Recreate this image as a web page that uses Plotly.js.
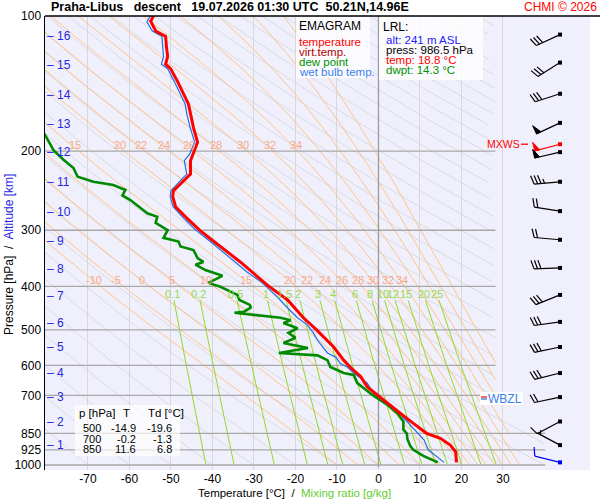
<!DOCTYPE html>
<html>
<head>
<meta charset="utf-8">
<script src="https://cdn.plot.ly/plotly-3.0.1.min.js"></script>
<style>
  html, body { margin: 0; padding: 0; background: #fff; }
  #chart { width: 600px; height: 500px; }
</style>
</head>
<body>
<div id="chart"></div>
<script>
// ---- sounding ----
var presT = [100, 102.6, 108, 111, 117, 123, 128, 131, 140, 149,
             157, 165, 177, 191, 203, 210, 225, 233, 245, 252,
             266, 283, 301, 317, 336, 353, 398, 429, 470, 500,
             546, 584, 607, 635, 670, 700, 727, 768, 808, 850,
             872, 903, 935, 975, 986.5];
var temp  = [-54.2, -54.9, -53.7, -51.3, -51.1, -50.8, -51.3, -50.1, -48.4, -47.0,
             -45.8, -45.3, -44.6, -43.6, -44.6, -45.3, -45.3, -47.0, -49.4, -49.6,
             -48.9, -46.0, -42.9, -39.8, -36.4, -33.3, -26.7, -21.9, -18.1, -14.9,
             -10.8, -8.4, -6.7, -4.3, -2.7, -0.2, 2.2, 5.3, 8.4, 11.6,
             14.9, 17.3, 18.6, 18.8, 18.8];

var presTd = [183, 199, 209, 218, 228, 234, 238, 244, 251, 257,
              275, 280, 289, 300, 312, 318, 326, 332, 346, 353,
              358, 368, 379, 393, 401, 418, 429, 440, 446, 456,
              458, 464, 470, 476, 483, 496, 508, 521, 535, 549,
              563, 570, 584, 605, 624, 630, 657, 674, 700, 735,
              768, 800, 834, 850, 877, 909, 925, 954, 975, 986.5];
var dewp   = [-80.5, -78.3, -75.9, -73.5, -72.5, -68.7, -63.9, -61.0, -61.7, -59.8,
              -55.7, -53.3, -53.7, -50.8, -51.8, -48.2, -47.7, -44.6, -43.6, -42.2,
              -44.1, -41.7, -37.6, -41.0, -38.1, -34.0, -33.5, -31.0, -30.8, -32.5,
              -34.7, -28.4, -23.6, -21.2, -22.9, -19.5, -21.7, -20.0, -22.9, -17.0,
              -24.0, -14.7, -12.3, -11.6, -8.4, -6.0, -5.1, -3.6, -1.3, 2.2,
              4.6, 6.0, 6.0, 6.8, 7.0, 7.7, 8.4, 10.8, 13.0, 14.3];

var presTw = [100, 103, 108, 111, 117, 123, 128, 131, 140, 149,
              157, 165, 177, 191, 203, 210, 225, 233, 245, 252,
              266, 283, 301, 319, 344, 372, 393, 423, 447, 470,
              488, 508, 527, 546, 563, 575, 594, 605, 624, 657,
              705, 742, 781, 835, 880, 925, 986.5];
var wetb   = [-55.0, -55.8, -54.5, -52.2, -52.0, -51.8, -52.3, -50.8, -49.2, -47.8,
              -46.6, -46.2, -45.4, -44.3, -45.5, -46.8, -46.2, -47.8, -50.0, -50.2,
              -49.5, -46.8, -43.8, -40.3, -35.9, -31.6, -28.0, -24.3, -21.9, -19.5,
              -17.1, -15.7, -14.7, -13.3, -12.3, -10.3, -9.2, -7.5, -6.0, -2.7,
              -0.7, 3.6, 5.8, 8.9, 11.0, 12.0, 15.8];

// altitude marks [km] and the pressure they sit at
var altKm = [1, 2, 3, 4, 5, 6, 7, 8, 9, 10, 11, 12, 13, 14, 15, 16];
var altP  = [903, 802, 706, 624, 546, 483, 420, 366, 317, 273, 234, 201, 174, 150, 128.6, 110.8];

// wind barbs
var windP   = [110, 127, 149, 173, 193, 201, 234, 272, 315, 364, 418, 480, 546, 624, 706, 800, 903, 986.5];
var windDir = [245, 238, 252, 245, 255, 257, 265, 279, 275, 268, 248, 262, 258, 256, 258, 242, 298, 284];
var windSpd = [30, 30, 30, 50, 50, 50, 35, 20, 20, 30, 30, 30, 30, 30, 20, 10, 5, 10];
var mxwsIdx = 4;

// table and lowest level
var tabP  = [500, 700, 850];
var tabT  = [-14.9, -0.2, 11.6];
var tabTd = [-19.6, -1.3, 6.8];
var lrl = {alt: 241, press: 986.5, temp: 18.8, dwpt: 14.3};

// diagram furniture
var isobars   = [200, 300, 400, 500, 600, 700, 850, 925, 1000];
var isotherms = [-70, -60, -50, -40, -30, -20, -10, 0, 10, 20, 30];
var pTicks    = [100, 200, 300, 400, 500, 600, 700, 850, 925, 1000];
var dryT0 = [-80, -70, -60, -50, -40, -30, -20, -10, 0, 10, 20, 30, 40, 50, 60, 70, 80, 90,
             100, 110, 120, 130, 140, 150, 160, 170, 180, 190, 200, 210, 220, 230, 240,
             250, 260, 270, 280, 290, 300, 310];
var wetTw = [-10, -5, 0, 5, 10, 15, 20, 22, 24, 26, 28, 30, 32, 34, 36, 38, 40, 42];
var wetLabelsHi = [15, 20, 22, 24, 26, 28, 30, 32, 34];
var wetLabelsLo = [-10, -5, 0, 5, 10, 15, 20, 22, 24, 26, 28, 30, 32, 34];
var mixW = [0.1, 0.2, 0.5, 1, 1.5, 2, 3, 4, 6, 8, 10, 12, 15, 20, 25];

var FONT = 'Liberation Sans, Arial, sans-serif';
var pxPerDecade = 449;
function PX(x) { return (x - 45) / 545; }
function PY(y) { return (470 - y) / 454; }
function pyOf(p) { return 16 + pxPerDecade * (Math.log10(p) - 2); }

function grayMax(p) {
  if (p <= 700) return 28.2;
  if (p >= 850) return 40.2;
  return 28.2 + (p - 700) / 150 * 12;
}
function orangeMax(p) {
  if (p <= 700) return 28.2;
  return 28.2 + (p - 700) / 300 * 6.5;
}

function es(t) { return 6.112 * Math.exp(17.67 * t / (t + 243.5)); }
function lapse(t, p) {
  var tk = t + 273.15, e = es(t), r = 0.622 * e / (p - e);
  var Lv = 2.501e6, Rd = 287.04, cp = 1005.7;
  return (Rd * tk + Lv * r) / (p * (cp + Lv * Lv * r * 0.622 / (Rd * tk * tk)));
}

var traces = [];
function addLine(xs, ys, color, width) {
  traces.push({x: xs, y: ys, mode: 'lines', type: 'scatter', hoverinfo: 'skip',
               line: {color: color, width: width}, connectgaps: false});
}

// dry adiabats
dryT0.forEach(function (t0) {
  var xs = [], ys = [];
  for (var p = 1000; p >= 99; p -= 5) {
    var t = (t0 + 273.15) * Math.pow(p / 1000, 0.2857) - 273.15;
    xs.push(t <= grayMax(p) ? t : null);
    ys.push(p);
  }
  addLine(xs, ys, '#d4d4da', 0.8);
});

// pseudo-adiabats
var wetLines = {};
wetTw.forEach(function (tw) {
  var xs = [], ys = [], raw = [];
  var p = 1000, t = tw, dp = -2;
  while (p >= 99) {
    raw.push([p, t]);
    xs.push(t <= orangeMax(p) ? t : null);
    ys.push(p);
    var k1 = lapse(t, p);
    var k2 = lapse(t + k1 * dp / 2, p + dp / 2);
    t += k2 * dp; p += dp;
  }
  wetLines[tw] = raw;
  addLine(xs, ys, '#ffbf7c', 0.9);
});
function wetAt(tw, p) {
  var raw = wetLines[tw];
  for (var i = 1; i < raw.length; i++) {
    if (raw[i][0] <= p) {
      var f = (raw[i - 1][0] - p) / (raw[i - 1][0] - raw[i][0]);
      return raw[i - 1][1] + f * (raw[i][1] - raw[i - 1][1]);
    }
  }
  return null;
}

// mixing ratio lines
function mixT(w, p) {
  var a = Math.log(w * p / (622 + w) / 6.112);
  return 243.5 * a / (17.67 - a);
}
mixW.forEach(function (w) {
  var xs = [], ys = [];
  for (var p = 1000; p >= 430; p -= 10) { xs.push(mixT(w, p)); ys.push(p); }
  addLine(xs, ys, '#96d825', 1);
});

// isobars
isobars.forEach(function (p) {
  addLine([-81, p >= 850 ? 40.2 : 28.2], [p, p], '#a8a8a8', 1.3);
});
// 0 degC isotherm
addLine([0, 0], [1012, 99], '#9a9a9a', 1.3);

// profiles
addLine(wetb, presTw, '#1f6fe8', 1.2);
addLine(dewp, presTd, '#008a00', 2.6);
addLine(temp, presT, '#ff0000', 3);

// wind barbs on a pixel x-axis
function pAt(p, dy) { return Math.pow(10, Math.log10(p) + dy / pxPerDecade); }
windP.forEach(function (p, i) {
  var col = i === mxwsIdx ? '#ff0000' : (i === windP.length - 1 ? '#0000ff' : '#000000');
  var d = windDir[i] * Math.PI / 180;
  var sx = Math.sin(d), sy = -Math.cos(d);
  var nx = Math.cos(d), ny = Math.sin(d);
  var a = 18 * Math.PI / 180;
  var bx = nx * Math.cos(a) + sx * Math.sin(a), by = ny * Math.cos(a) + sy * Math.sin(a);
  var x0 = 560, L = 26;
  var tx = x0 + L * sx, ty = L * sy;
  var xs = [x0, tx, null], ys = [p, pAt(p, ty), null];
  var s = Math.round(windSpd[i] / 5) * 5;
  var n50 = Math.floor(s / 50), n10 = Math.floor((s % 50) / 10), n5 = (s % 10) >= 5 ? 1 : 0;
  var off = 0;
  for (var k = 0; k < n50; k++) {
    var b1x = tx - sx * off, b1y = ty - sy * off;
    var b2x = tx - sx * (off + 5), b2y = ty - sy * (off + 5);
    var axp = b1x + nx * 9, ayp = b1y + ny * 9;
    traces.push({x: [b1x, axp, b2x, b1x], y: [pAt(p, b1y), pAt(p, ayp), pAt(p, b2y), pAt(p, b1y)],
                 xaxis: 'x2', mode: 'lines', fill: 'toself', fillcolor: col, hoverinfo: 'skip',
                 line: {color: col, width: 1}});
    off += 6;
  }
  for (k = 0; k < n10; k++) {
    var qx = tx - sx * off, qy = ty - sy * off;
    xs.push(qx, qx + bx * 9, null); ys.push(pAt(p, qy), pAt(p, qy + by * 9), null);
    off += 3.5;
  }
  if (n5) {
    if (off === 0) off = 3.5;
    qx = tx - sx * off; qy = ty - sy * off;
    xs.push(qx, qx + bx * 4.5, null); ys.push(pAt(p, qy), pAt(p, qy + by * 4.5), null);
  }
  traces.push({x: xs, y: ys, xaxis: 'x2', mode: 'lines', hoverinfo: 'skip',
               line: {color: col, width: 1.2}});
  traces.push({x: [x0], y: [p], xaxis: 'x2', mode: 'markers', hoverinfo: 'skip',
               marker: {symbol: 'square', size: 4, color: col}});
});

// ---- annotations ----
var ann = [];
function txt(x, y, s, opt) {
  opt = opt || {};
  ann.push({xref: 'paper', yref: 'paper', x: PX(x), y: PY(y), text: s, showarrow: false,
            xanchor: opt.xa || 'left', yanchor: 'middle', textangle: opt.angle || 0, borderpad: 0,
            font: {family: FONT, size: opt.size || 11, color: opt.color || '#000'}});
}
var sp = '\u00a0';

txt(50, 7, '<b>Praha-Libus' + sp + sp + ' descent' + sp + sp + ' 19.07.2026 01:30 UTC' + sp + ' 50.21N,14.96E</b>', {size: 12.5});
txt(598, 7, 'CHMI \u00a9 2026', {xa: 'right', size: 12, color: '#ff0000'});

// altitude marks
altKm.forEach(function (km, i) {
  ann.push({xref: 'paper', yref: 'y', x: PX(46), y: Math.log10(altP[i]), text: '\u2013' + sp + km,
            showarrow: false, xanchor: 'left', yanchor: 'middle', borderpad: 0,
            font: {family: FONT, size: 12, color: '#2626e6'}});
});

// pseudo-adiabat labels
function wetLabel(tw, p, dx) {
  var t = wetAt(tw, p);
  if (t === null || t < -79) return;
  ann.push({xref: 'x', yref: 'y', x: t + dx, y: Math.log10(p), text: String(tw), showarrow: false,
            xanchor: 'center', yanchor: 'middle', borderpad: 0,
            font: {family: FONT, size: 11, color: '#f7a888'}});
}
wetLabelsHi.forEach(function (tw) { wetLabel(tw, 194, 0.9); });
wetLabelsLo.forEach(function (tw) { wetLabel(tw, 387, 0.3); });

// mixing ratio labels
mixW.forEach(function (w) {
  ann.push({xref: 'x', yref: 'y', x: mixT(w, 417), y: Math.log10(417), text: String(w), showarrow: false,
            xanchor: 'center', yanchor: 'middle', borderpad: 0,
            font: {family: FONT, size: 11, color: '#99d94a'}});
});

// legend box
txt(298, 26, 'EMAGRAM', {size: 12});
txt(298, 42, 'temperature', {color: '#ff0000', size: 11.5});
txt(298, 52, 'virt.temp.', {color: '#b00000', size: 11.5});
txt(298, 62, 'dew point', {color: '#009000', size: 11.5});
txt(298, 72, 'wet bulb temp.', {color: '#3a7ff0', size: 11.5});

// LRL box
txt(382, 27, 'LRL:', {size: 12});
txt(385, 40, 'alt: ' + lrl.alt + ' m ASL', {color: '#2222ff', size: 11.5});
txt(385, 50, 'press: ' + lrl.press.toFixed(1) + ' hPa', {size: 11.5});
txt(385, 60, 'temp: ' + lrl.temp.toFixed(1) + ' \u00b0C', {color: '#ff0000', size: 11.5});
txt(385, 70, 'dwpt: ' + lrl.dwpt.toFixed(1) + ' \u00b0C', {color: '#009000', size: 11.5});

// table
txt(78, 413, 'p [hPa]', {size: 11.5});
txt(126, 413, 'T', {size: 11.5, xa: 'center'});
txt(147, 413, 'Td [\u00b0C]', {size: 11.5});
tabP.forEach(function (p, i) {
  var y = 428 + i * 10.5;
  txt(102, y, String(p), {xa: 'right', size: 11});
  txt(137, y, tabT[i].toFixed(1), {xa: 'right', size: 11});
  txt(173, y, tabTd[i].toFixed(1), {xa: 'right', size: 11});
});

// axis titles
txt(197, 493, 'Temperature [\u00b0C]' + sp + ' /' + sp + ' <span style="color:#66cc33">Mixing ratio [g/kg]</span>', {size: 11.5});
ann.push({xref: 'paper', yref: 'paper', x: -36 / 545, y: PY(255), showarrow: false, textangle: -90,
          xanchor: 'center', yanchor: 'middle',
          text: 'Pressure [hPa]' + sp + ' /' + sp + ' <span style="color:#2626e6">Altitude [km]</span>',
          font: {family: FONT, size: 12, color: '#000'}});

// MXWS and WBZL markers
var mxP = windP[mxwsIdx];
ann.push({xref: 'paper', yref: 'y', x: PX(486), y: Math.log10(mxP), text: 'MXWS', showarrow: false,
          xanchor: 'left', yanchor: 'middle', borderpad: 0,
          font: {family: FONT, size: 10.5, color: '#ff0000'}});
var wbzP = 700;
for (var i = 1; i < wetb.length; i++) {
  if (wetb[i - 1] < 0 && wetb[i] >= 0 && presTw[i] > 500) {
    wbzP = presTw[i - 1] + (0 - wetb[i - 1]) / (wetb[i] - wetb[i - 1]) * (presTw[i] - presTw[i - 1]);
  }
}
ann.push({xref: 'paper', yref: 'y', x: PX(487), y: Math.log10(wbzP), text: 'WBZL', showarrow: false,
          xanchor: 'left', yanchor: 'middle', borderpad: 0,
          font: {family: FONT, size: 12, color: '#3a7ff0'}});

var wbY = pyOf(wbzP), mxY = pyOf(mxP);
var shapes = [
  {type: 'rect', xref: 'paper', yref: 'paper', x0: PX(296), x1: PX(370), y0: PY(78), y1: PY(17),
   fillcolor: 'rgba(255,255,255,0.78)', line: {width: 0}, layer: 'above'},
  {type: 'rect', xref: 'paper', yref: 'paper', x0: PX(379), x1: PX(483), y0: PY(80), y1: PY(17),
   fillcolor: 'rgba(255,255,255,0.78)', line: {width: 0}, layer: 'above'},
  {type: 'rect', xref: 'paper', yref: 'paper', x0: PX(75), x1: PX(180), y0: PY(456), y1: PY(405),
   fillcolor: 'rgba(255,255,255,0.7)', line: {width: 0}, layer: 'above'},
  {type: 'rect', xref: 'paper', yref: 'paper', x0: PX(480), x1: PX(523), y0: PY(wbY + 6.5), y1: PY(wbY - 6.5),
   fillcolor: 'rgba(255,255,255,0.9)', line: {width: 0}, layer: 'above'},
  // top border
  {type: 'line', xref: 'paper', yref: 'paper', x0: 0, x1: PX(600), y0: 1, y1: 1,
   line: {color: '#000', width: 1.3}},
  // MXWS dash, WBZL double dash
  {type: 'line', xref: 'paper', yref: 'paper', x0: PX(521), x1: PX(528), y0: PY(mxY), y1: PY(mxY),
   line: {color: '#ff0000', width: 1.3}, layer: 'above'},
  {type: 'line', xref: 'paper', yref: 'paper', x0: PX(481), x1: PX(487), y0: PY(wbY - 1.5), y1: PY(wbY - 1.5),
   line: {color: '#ff0000', width: 1.2}, layer: 'above'},
  {type: 'line', xref: 'paper', yref: 'paper', x0: PX(481), x1: PX(487), y0: PY(wbY + 0.5), y1: PY(wbY + 0.5),
   line: {color: '#1f6fe8', width: 1.2}, layer: 'above'}
];

var layout = {
  width: 600, height: 500,
  margin: {l: 45, r: 10, t: 16, b: 30},
  paper_bgcolor: '#ffffff',
  plot_bgcolor: '#f0f0fc',
  showlegend: false,
  font: {family: FONT, size: 12, color: '#000'},
  xaxis: {
    range: [-80.36, 50.97], tickvals: isotherms,
    ticktext: isotherms.map(function (t) { return String(t); }),
    showgrid: true, gridcolor: '#d8d8dc', gridwidth: 1,
    zeroline: false, showline: false, ticks: '', tickfont: {size: 12}
  },
  xaxis2: {range: [45, 590], overlaying: 'x', anchor: 'y', visible: false},
  yaxis: {
    type: 'log', range: [3 + 5 / pxPerDecade, 2],
    tickvals: pTicks, ticktext: pTicks.map(function (p) { return String(p); }),
    showgrid: false, zeroline: false, showline: true, linecolor: '#000', linewidth: 1.5,
    ticks: '', tickfont: {size: 12}
  },
  annotations: ann,
  shapes: shapes
};

Plotly.newPlot('chart', traces, layout, {staticPlot: true, displayModeBar: false});
</script>
</body>
</html>
